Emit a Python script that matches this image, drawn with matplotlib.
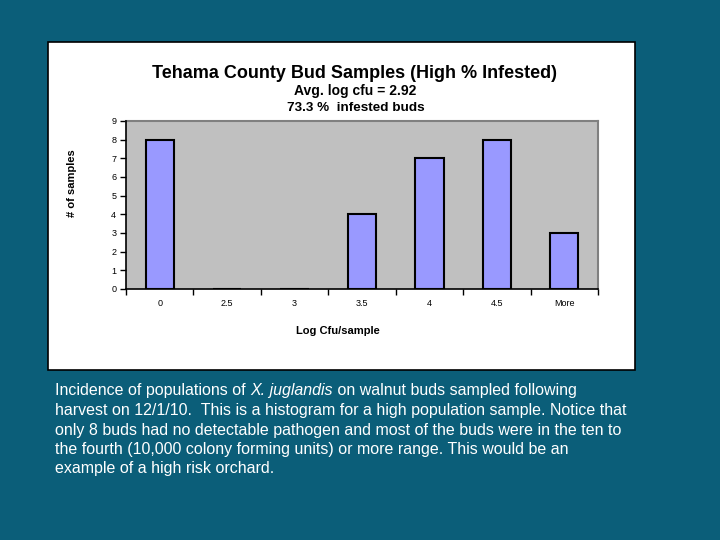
import matplotlib.pyplot as plt
from matplotlib.patches import Rectangle
import numpy as np

bins = ['0', '2.5', '3', '3.5', '4', '4.5', 'More']
counts = [8, 0, 0, 4, 7, 8, 3]

title = 'Tehama County Bud Samples (High % Infested)'
sub1 = 'Avg. log cfu = 2.92'
sub2 = '73.3 %  infested buds'

bg = '#0b5e79'
plt.rcParams['font.family'] = ['Liberation Sans', 'DejaVu Sans']

fig = plt.figure(figsize=(7.2, 5.4), dpi=100, facecolor=bg)

# white chart panel
panel = Rectangle((48/720, 1 - 370/540), (635-48)/720, (370-42)/540,
                  transform=fig.transFigure, facecolor='white',
                  edgecolor='black', linewidth=1.2, zorder=-5)
fig.patches.append(panel)

ax = fig.add_axes([126/720, 1 - 289/540, (598-126)/720, (289-121)/540])
ax.set_facecolor('#c0c0c0')
x = np.arange(len(bins))
ax.bar(x, counts, width=0.42, color='#9999ff', edgecolor='black', linewidth=1.5, zorder=3)

ax.set_xlim(-0.5, len(bins) - 0.5)
ax.set_ylim(0, 9)
ax.set_yticks(range(10))
ax.tick_params(axis='y', labelsize=6.5, length=4, width=1, direction='out', pad=3)

ax.set_xticks(np.arange(-0.5, len(bins), 1))
ax.set_xticklabels([])
ax.tick_params(axis='x', which='major', length=4, width=1, direction='out')
ax.set_xticks(x, minor=True)
ax.set_xticklabels(bins, minor=True)
ax.tick_params(axis='x', which='minor', length=0, labelsize=6.5, pad=7)

for s in ['left', 'bottom']:
    ax.spines[s].set_color('black')
    ax.spines[s].set_linewidth(1.2)
    ax.spines[s].set_zorder(5)
for s in ['top', 'right']:
    ax.spines[s].set_color('#808080')
    ax.spines[s].set_linewidth(1.5)

fig.text(355/720, 1 - 73/540, title, ha='center', va='center', fontsize=13, fontweight='bold')
fig.text(355/720, 1 - 91/540, sub1, ha='center', va='center', fontsize=10, fontweight='bold')
fig.text(356/720, 1 - 108/540, sub2, ha='center', va='center', fontsize=9.7, fontweight='bold')
fig.text(72/720, 1 - 183/540, '# of samples', rotation=90, ha='center', va='center', fontsize=8, fontweight='bold')
fig.text(338/720, 1 - 331/540, 'Log Cfu/sample', ha='center', va='center', fontsize=8, fontweight='bold')

# caption below the chart
fs = 11.5
left = 55/720
y0 = 1 - 391/540
r = fig.canvas.get_renderer()
t1 = fig.text(left, y0, 'Incidence of populations of ', color='white', fontsize=fs, va='center')
bb = t1.get_window_extent(r)
t2 = fig.text(bb.x1/720, y0, 'X. juglandis', color='white', fontsize=fs, va='center', style='italic')
bb = t2.get_window_extent(r)
fig.text(bb.x1/720, y0, ' on walnut buds sampled following', color='white', fontsize=fs, va='center')

lines = ['harvest on 12/1/10.  This is a histogram for a high population sample. Notice that',
         'only 8 buds had no detectable pathogen and most of the buds were in the ten to',
         'the fourth (10,000 colony forming units) or more range. This would be an',
         'example of a high risk orchard.']
for i, ln in enumerate(lines):
    fig.text(left, y0 - (i + 1) * 19.5/540, ln, color='white', fontsize=fs, va='center')

fig.savefig('out.png', dpi=100, facecolor=bg)
